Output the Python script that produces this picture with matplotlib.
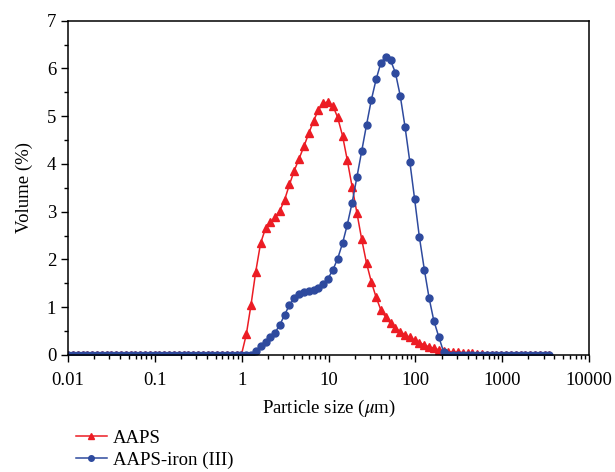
import numpy as np
import matplotlib
matplotlib.use('Agg')
import matplotlib.pyplot as plt
from matplotlib.ticker import FixedLocator, LogLocator, MultipleLocator, FuncFormatter

plt.rcParams['font.family'] = 'Liberation Serif'
plt.rcParams['mathtext.fontset'] = 'stix'

# particle size classes (um), 101 classes from 0.01 to 3500
sizes = [0.0100, 0.0114, 0.0129, 0.0147, 0.0167, 0.0189, 0.0215, 0.0244, 0.0278, 0.0315,
         0.0358, 0.0407, 0.0463, 0.0526, 0.0597, 0.0679, 0.0771, 0.0876, 0.0995, 0.113,
         0.128, 0.146, 0.166, 0.188, 0.214, 0.243, 0.276, 0.314, 0.357, 0.405,
         0.460, 0.523, 0.594, 0.675, 0.767, 0.872, 0.991, 1.13, 1.28, 1.45,
         1.65, 1.88, 2.13, 2.42, 2.75, 3.12, 3.55, 4.03, 4.58, 5.21,
         5.92, 6.72, 7.64, 8.68, 9.86, 11.2, 12.7, 14.5, 16.4, 18.7,
         21.2, 24.1, 27.4, 31.1, 35.3, 40.1, 45.6, 51.8, 58.9, 66.9,
         76.0, 86.4, 98.1, 111, 127, 144, 163, 186, 211, 240,
         272, 310, 352, 400, 454, 516, 586, 666, 756, 859,
         976, 1110, 1260, 1430, 1630, 1850, 2100, 2390, 2710, 3080, 3500]

# volume (%) per class
aaps = [0] * 36 + [
    0.0, 0.43, 1.05, 1.74, 2.34, 2.65, 2.78, 2.88, 3.02, 3.25,
    3.57, 3.86, 4.11, 4.37, 4.64, 4.90, 5.13, 5.27, 5.30, 5.22,
    4.98, 4.59, 4.09, 3.52, 2.98, 2.42, 1.92, 1.53, 1.21, 0.94,
    0.79, 0.66, 0.56, 0.49, 0.42, 0.37, 0.31, 0.26, 0.21, 0.17,
    0.14, 0.11, 0.09, 0.07, 0.06, 0.06, 0.05, 0.05, 0.04, 0.03,
    0.02] + [0] * 14

aaps_iron = [0] * 39 + [
    0.08, 0.19, 0.28, 0.37, 0.47, 0.63, 0.84, 1.05, 1.19, 1.28,
    1.32, 1.35, 1.37, 1.40, 1.49, 1.60, 1.78, 2.01, 2.34, 2.72,
    3.19, 3.72, 4.27, 4.82, 5.34, 5.77, 6.12, 6.24, 6.17, 5.91,
    5.43, 4.78, 4.04, 3.26, 2.48, 1.78, 1.19, 0.72, 0.38, 0.07] + [0] * 22

x_ticks = [0.01, 0.1, 1, 10, 100, 1000, 10000]

red = '#ec1c24'
blue = '#2e4a9e'

fig = plt.figure(figsize=(6.15, 4.72), dpi=100)
ax = fig.add_axes([0.1106, 0.2479, 0.8472, 0.7083])

ax.plot(sizes, aaps, color=red, lw=1.1, marker='^', ms=6, label='AAPS')
ax.plot(sizes, aaps_iron, color=blue, lw=1.1, marker='o', ms=5, label='AAPS-iron (III)')

ax.set_xscale('log')
ax.set_xlim(0.01, 10000)
ax.set_ylim(0, 7)
ax.xaxis.set_major_locator(FixedLocator(x_ticks))
ax.xaxis.set_minor_locator(LogLocator(base=10, subs=np.arange(2, 10), numticks=20))
ax.xaxis.set_major_formatter(FuncFormatter(lambda v, p: '%g' % v))
ax.yaxis.set_major_locator(MultipleLocator(1))
ax.yaxis.set_minor_locator(MultipleLocator(0.5))

ax.tick_params(which='major', direction='out', length=5, width=1, labelsize=13.5)
ax.tick_params(which='minor', direction='out', length=3, width=1)
ax.tick_params(axis='x', which='major', pad=7.5)
for s in ax.spines.values():
    s.set_linewidth(1.1)

ax.set_xlabel(r'Particle size ($\mu$m)', fontsize=13.5, labelpad=6)
ax.set_ylabel('Volume (%)', fontsize=13.5, labelpad=10)

fig.legend(loc='upper left', bbox_to_anchor=(0.123, 0.09), frameon=False,
           fontsize=13.5, handlelength=1.65, handletextpad=0.35, labelspacing=0.25,
           borderpad=0, borderaxespad=0, markerscale=0.8)

fig.savefig('out.png', dpi=100)
